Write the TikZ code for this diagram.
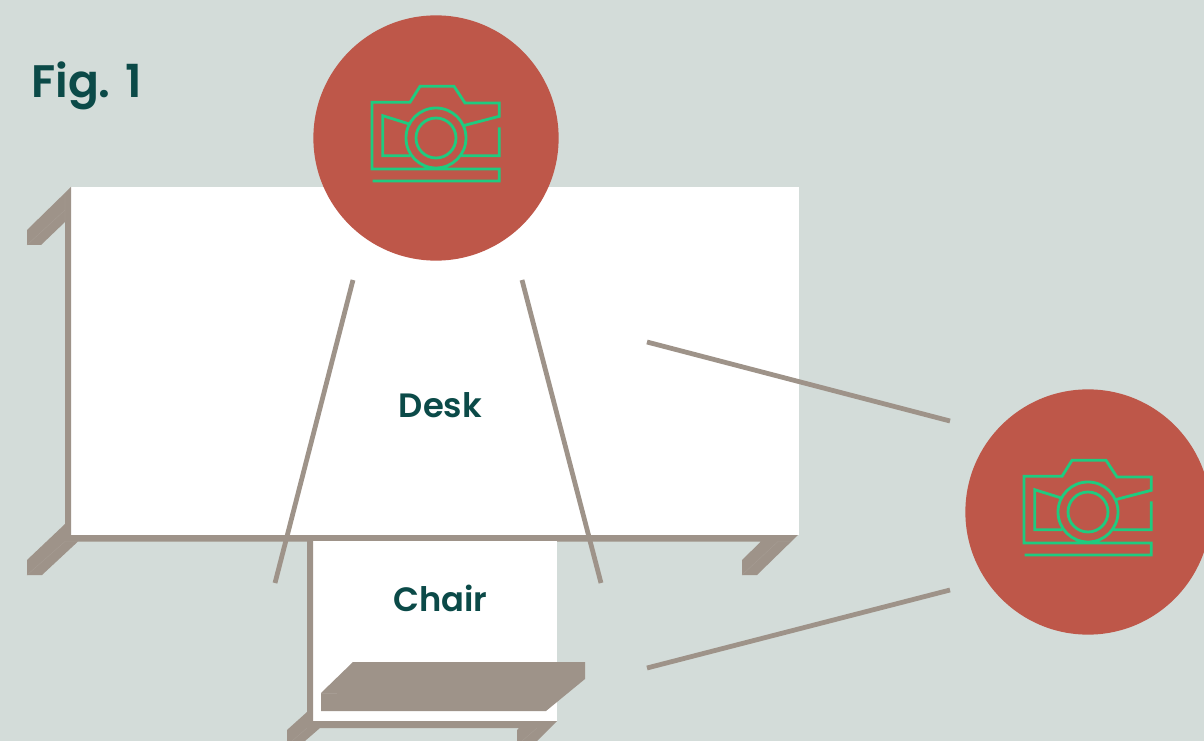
\documentclass[tikz,border=0pt]{standalone}
\usepackage{fontspec}
\setmainfont{Poppins}[BoldFont=Poppins SemiBold]
\definecolor{bgcol}{HTML}{D3DCD9}
\definecolor{framecol}{HTML}{9E9389}
\definecolor{seamcol}{HTML}{A69C93}
\definecolor{camcol}{HTML}{BE5749}
\definecolor{iconcol}{HTML}{1FCB7F}
\definecolor{textcol}{HTML}{0B4A48}
\tikzset{
  furniture/.style={fill=framecol},
  seam/.style={draw=seamcol, line width=0.3pt},
  sightline/.style={draw=framecol, line width=3.4pt},
  camdot/.style={circle, fill=camcol, inner sep=0pt, minimum size=6.13cm},
  label/.style={text=textcol, font=\bfseries\fontsize{24pt}{28pt}\selectfont},
  camera/.pic={
    \draw[iconcol, line width=2pt, line join=miter]
      (63.3,-10.7) -- (63.3,17.7) -- (25.7,17.7)
      (27.3,-12.3) -- (63.3,-21.7) -- (63.3,-35) -- (29,-35) -- (18,-51.7)
        -- (-16,-51.7) -- (-26,-35.7) -- (-64,-35.7) -- (-64,31) -- (63.3,31)
        -- (63.3,43) -- (-63.3,43)
      (-26.7,-14) -- (-53.3,-22.3) -- (-53.3,17.7) -- (-26,17.7)
      (0,0) circle (30)
      (0,0) circle (20);
  }
}

\begin{document}
\begin{tikzpicture}[x=0.025cm, y=-0.025cm]

\clip (0,0) rectangle (1204,741);
\fill[bgcol] (0,0) rectangle (1204,741);

% Desk
\fill[white] (71,187) rectangle (799,535);
\fill[furniture] (71,187) -- (27,230) -- (27,245) -- (41,245) -- (65,222) -- (65,524)
  -- (27,560) -- (27,575) -- (42,575) -- (78,541.5) -- (761,541.5) -- (742,560)
  -- (742,575) -- (757,575) -- (798,535) -- (71,535) -- cycle;
\draw[seam] (27,245) -- (65,210) (65,195) -- (65,222);
\draw[seam] (27,575) -- (65,541.5) -- (78,541.5);
\draw[seam] (742,575) -- (778,541.5) -- (790,541.5);

% Chair
\fill[white] (313,541) rectangle (557,721);
\fill[furniture] (307,541) -- (307,712) -- (287,730) -- (287,741) -- (305,741) -- (320,728)
  -- (519,728) -- (517,730) -- (517,741) -- (537,741) -- (557,721) -- (313,721) -- (313,541) -- cycle;
\draw[seam] (292,741) -- (307,728) (522,741) -- (537,728);

% Seat
\fill[furniture] (353,662) -- (585,662) -- (585,679) -- (546,711) -- (321,711) -- (321,693) -- cycle;
\draw[seam] (321,693) -- (337,693);

% Cameras
\node[camdot] (topcam) at (436,138) {};
\node[camdot] (sidecam) at (1088,512) {};
\pic at (topcam.center) {camera};
\pic at (sidecam.center) {camera};

% Sight lines
\coordinate (topleft) at (353,280);
\coordinate (topleftend) at (275,583);
\coordinate (topright) at (522,280);
\coordinate (toprightend) at (601,583);
\coordinate (sideup) at (950,421);
\coordinate (sideupend) at (647,342);
\coordinate (sidedown) at (950,590);
\coordinate (sidedownend) at (647,668);
\draw[sightline] (topleft) -- (topleftend);
\draw[sightline] (topright) -- (toprightend);
\draw[sightline] (sideup) -- (sideupend);
\draw[sightline] (sidedown) -- (sidedownend);

% Labels
\node[label] (desk) at (440.5,405) {Desk};
\node[label] (chair) at (440.5,598.5) {Chair};
\node[label, font=\bfseries\fontsize{32.4pt}{38pt}\selectfont, anchor=base west, inner sep=0pt] (figlabel) at (31,98) {Fig. 1};

\end{tikzpicture}
\end{document}
